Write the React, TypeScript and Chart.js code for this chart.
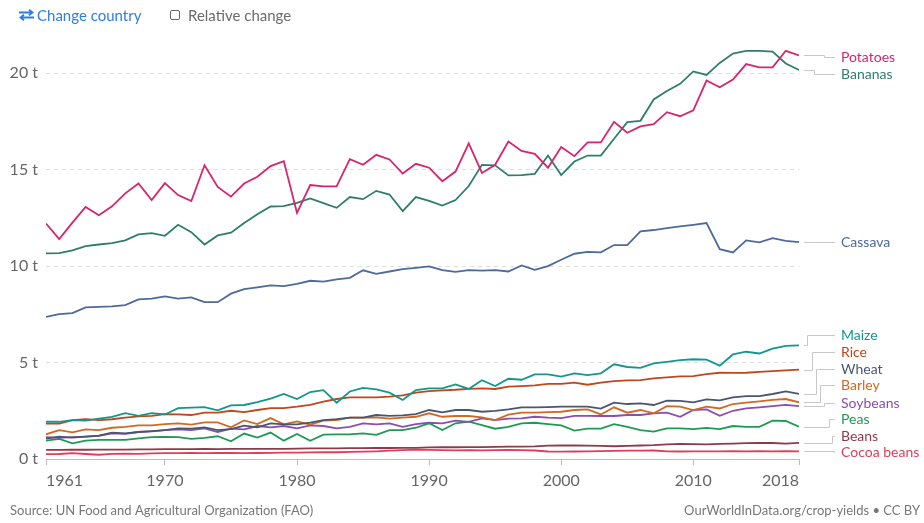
import React, { useEffect, useRef } from "react";
import { Chart, registerables } from "chart.js";
Chart.register(...registerables);

const years: number[] = Array.from({ length: 58 }, (_, i) => 1961 + i);
const xTicks = [1961, 1970, 1980, 1990, 2000, 2010, 2018];
const yTicks = [0, 5, 10, 15, 20];

const potatoes = [12.21, 11.4, 12.25, 13.07, 12.64, 13.1, 13.77, 14.28, 13.42, 14.3,
  13.68, 13.37, 15.23, 14.1, 13.6, 14.28, 14.63, 15.18, 15.44, 12.76,
  14.2, 14.13, 14.13, 15.54, 15.25, 15.77, 15.53, 14.8, 15.3, 15.1,
  14.4, 14.9, 16.36, 14.83, 15.25, 16.46, 15.97, 15.82, 15.1, 16.17,
  15.7, 16.41, 16.41, 17.48, 16.91, 17.24, 17.36, 17.98, 17.77, 18.07,
  19.62, 19.27, 19.67, 20.47, 20.3, 20.3, 21.16, 20.92];
const bananas = [10.66, 10.67, 10.81, 11.04, 11.12, 11.19, 11.33, 11.64, 11.71, 11.57,
  12.14, 11.76, 11.12, 11.59, 11.73, 12.23, 12.69, 13.09, 13.11, 13.28,
  13.51, 13.26, 13.02, 13.58, 13.47, 13.9, 13.71, 12.85, 13.58, 13.38,
  13.14, 13.42, 14.15, 15.25, 15.22, 14.7, 14.72, 14.78, 15.73, 14.72,
  15.42, 15.73, 15.73, 16.6, 17.46, 17.53, 18.64, 19.08, 19.45, 20.09,
  19.91, 20.53, 21.02, 21.16, 21.16, 21.12, 20.5, 20.17];
const cassava = [7.37, 7.51, 7.56, 7.86, 7.89, 7.91, 7.98, 8.27, 8.31, 8.43,
  8.31, 8.38, 8.13, 8.13, 8.57, 8.81, 8.9, 9.0, 8.96, 9.08,
  9.24, 9.2, 9.31, 9.39, 9.78, 9.6, 9.72, 9.84, 9.91, 9.98,
  9.79, 9.7, 9.79, 9.76, 9.79, 9.72, 10.03, 9.81, 10.0, 10.33,
  10.64, 10.74, 10.71, 11.09, 11.09, 11.8, 11.87, 11.97, 12.06, 12.14,
  12.23, 10.88, 10.71, 11.33, 11.23, 11.45, 11.31, 11.24];
const maize = [1.93, 1.93, 2.02, 1.99, 2.09, 2.18, 2.38, 2.24, 2.38, 2.31,
  2.64, 2.66, 2.69, 2.52, 2.78, 2.8, 2.95, 3.13, 3.37, 3.11,
  3.47, 3.57, 2.92, 3.5, 3.69, 3.61, 3.44, 3.06, 3.57, 3.66,
  3.66, 3.87, 3.63, 4.08, 3.78, 4.16, 4.11, 4.39, 4.39, 4.27,
  4.44, 4.35, 4.44, 4.91, 4.77, 4.72, 4.96, 5.04, 5.13, 5.17,
  5.15, 4.84, 5.42, 5.56, 5.47, 5.72, 5.86, 5.89];
const rice = [1.83, 1.83, 2.02, 2.07, 2.02, 2.06, 2.14, 2.21, 2.24, 2.33,
  2.31, 2.28, 2.4, 2.4, 2.5, 2.43, 2.54, 2.64, 2.64, 2.71,
  2.8, 2.97, 3.11, 3.19, 3.19, 3.19, 3.23, 3.3, 3.44, 3.52,
  3.56, 3.59, 3.64, 3.66, 3.63, 3.75, 3.78, 3.82, 3.89, 3.89,
  3.96, 3.85, 3.96, 4.04, 4.08, 4.09, 4.18, 4.23, 4.28, 4.3,
  4.4, 4.47, 4.46, 4.47, 4.52, 4.56, 4.59, 4.63];
const wheat = [1.06, 1.16, 1.11, 1.16, 1.21, 1.37, 1.33, 1.4, 1.45, 1.5,
  1.59, 1.57, 1.64, 1.5, 1.55, 1.73, 1.64, 1.85, 1.8, 1.8,
  1.88, 2.02, 2.07, 2.14, 2.14, 2.28, 2.24, 2.26, 2.33, 2.54,
  2.42, 2.54, 2.54, 2.45, 2.5, 2.57, 2.68, 2.68, 2.69, 2.71,
  2.71, 2.71, 2.61, 2.92, 2.85, 2.88, 2.8, 3.02, 3.01, 2.94,
  3.09, 3.04, 3.19, 3.26, 3.26, 3.37, 3.5, 3.37];
const barley = [1.28, 1.5, 1.38, 1.54, 1.5, 1.62, 1.67, 1.74, 1.74, 1.81,
  1.85, 1.78, 1.9, 1.9, 1.64, 2.0, 1.81, 2.12, 1.8, 1.95,
  1.78, 1.99, 2.02, 2.14, 2.14, 2.16, 2.09, 2.14, 2.19, 2.37,
  2.19, 2.23, 2.23, 2.16, 2.02, 2.3, 2.4, 2.4, 2.43, 2.45,
  2.54, 2.57, 2.31, 2.68, 2.4, 2.54, 2.37, 2.74, 2.71, 2.54,
  2.71, 2.62, 2.85, 2.92, 2.99, 3.06, 3.11, 2.94];
const soybeans = [1.13, 1.09, 1.13, 1.16, 1.2, 1.33, 1.3, 1.4, 1.43, 1.5,
  1.54, 1.5, 1.59, 1.4, 1.57, 1.54, 1.71, 1.64, 1.71, 1.59,
  1.74, 1.71, 1.59, 1.67, 1.85, 1.8, 1.85, 1.67, 1.81, 1.88,
  1.85, 1.99, 1.92, 2.11, 2.02, 2.09, 2.11, 2.19, 2.14, 2.12,
  2.24, 2.24, 2.23, 2.23, 2.28, 2.28, 2.37, 2.4, 2.19, 2.54,
  2.57, 2.24, 2.5, 2.62, 2.68, 2.74, 2.81, 2.74];
const peas = [0.95, 1.04, 0.81, 0.95, 0.99, 0.99, 0.99, 1.07, 1.13, 1.14,
  1.13, 1.04, 1.09, 1.18, 0.92, 1.32, 1.11, 1.37, 0.95, 1.3,
  0.94, 1.26, 1.28, 1.28, 1.33, 1.25, 1.5, 1.5, 1.62, 1.85,
  1.5, 1.85, 1.94, 1.76, 1.57, 1.67, 1.85, 1.88, 1.81, 1.74,
  1.47, 1.57, 1.57, 1.81, 1.67, 1.5, 1.42, 1.59, 1.59, 1.55,
  1.61, 1.55, 1.71, 1.67, 1.67, 1.99, 1.97, 1.67];
const beans = [0.47, 0.47, 0.48, 0.48, 0.49, 0.49, 0.49, 0.5, 0.5, 0.51,
  0.51, 0.51, 0.52, 0.51, 0.52, 0.52, 0.53, 0.53, 0.53, 0.54,
  0.55, 0.55, 0.55, 0.56, 0.56, 0.57, 0.57, 0.58, 0.58, 0.6,
  0.61, 0.61, 0.62, 0.62, 0.63, 0.64, 0.64, 0.65, 0.69, 0.7,
  0.7, 0.69, 0.68, 0.66, 0.68, 0.7, 0.72, 0.76, 0.78, 0.77,
  0.76, 0.78, 0.8, 0.82, 0.83, 0.83, 0.8, 0.84];
const cocoaBeans = [0.25, 0.26, 0.3, 0.26, 0.22, 0.27, 0.28, 0.27, 0.29, 0.3,
  0.3, 0.31, 0.3, 0.32, 0.31, 0.3, 0.31, 0.32, 0.33, 0.33,
  0.34, 0.35, 0.35, 0.37, 0.38, 0.4, 0.43, 0.46, 0.49, 0.47,
  0.46, 0.45, 0.46, 0.45, 0.46, 0.47, 0.46, 0.44, 0.39, 0.38,
  0.39, 0.4, 0.41, 0.42, 0.43, 0.43, 0.44, 0.4, 0.39, 0.4,
  0.4, 0.4, 0.41, 0.4, 0.41, 0.4, 0.41, 0.4];

const seriesNames = ["Potatoes", "Bananas", "Cassava", "Maize", "Rice", "Wheat", "Barley", "Soybeans", "Peas", "Beans", "Cocoa beans"];
const seriesValues = [potatoes, bananas, cassava, maize, rice, wheat, barley, soybeans, peas, beans, cocoaBeans];
const seriesColors = ["#d6246e", "#2e7f69", "#4c6a9c", "#13968f", "#c0471c", "#4a5670", "#d06a22", "#8a4db3", "#1f9a55", "#8e3a4a", "#dc4058"];
// label layout (styling)
const labelY = [57, 74, 242, 335, 352, 369, 385, 403, 419, 436, 452];
const elbowX = [824, 814, 814, 807, 812, 816, 820, 824, 829, 832, 834];

const endLabels = {
  id: "endLabels",
  afterDatasetsDraw(chart: any) {
    const ctx = chart.ctx;
    const area = chart.chartArea;
    const ys = chart.scales.y;
    ctx.save();
    ctx.font = "14px Lato";
    ctx.textBaseline = "middle";
    ctx.textAlign = "left";
    chart.data.datasets.forEach((ds: any, i: number) => {
      const last = ds.data[ds.data.length - 1].y;
      const y0 = ys.getPixelForValue(last);
      const ly = labelY[i];
      const ex = elbowX[i];
      ctx.strokeStyle = "#c8c8c8";
      ctx.lineWidth = 1;
      ctx.beginPath();
      ctx.moveTo(area.right + 5, Math.round(y0) + 0.5);
      ctx.lineTo(ex + 0.5, Math.round(y0) + 0.5);
      ctx.lineTo(ex + 0.5, ly + 0.5);
      ctx.lineTo(area.right + 36, ly + 0.5);
      ctx.stroke();
      ctx.fillStyle = seriesColors[i];
      ctx.fillText(seriesNames[i], area.right + 42, ly);
    });
    ctx.font = "13px Lato";
    ctx.fillStyle = "#777";
    ctx.textAlign = "left";
    ctx.fillText("Source: UN Food and Agricultural Organization (FAO)", 10, 511);
    ctx.textAlign = "right";
    ctx.fillText("OurWorldInData.org/crop-yields • CC BY", 920, 511);
    ctx.restore();
  },
};

export default function App() {
  const ref = useRef<HTMLCanvasElement>(null);
  useEffect(() => {
    document.body.style.margin = "0";
    const datasets = seriesNames.map((name, i) => ({
      label: name,
      data: years.map((yr, j) => ({ x: yr, y: seriesValues[i][j] })),
      borderColor: seriesColors[i],
      backgroundColor: seriesColors[i],
      borderWidth: 1.8,
      pointRadius: 0,
      tension: 0,
      fill: false,
    }));
    const chart = new Chart(ref.current as HTMLCanvasElement, {
      type: "line",
      data: { datasets },
      options: {
        animation: false,
        responsive: false,
        layout: { padding: { left: 0, right: 125, top: 34.6, bottom: 0 } },
        plugins: { legend: { display: false }, tooltip: { enabled: false } },
        scales: {
          x: {
            type: "linear",
            min: 1961,
            max: 2018,
            afterBuildTicks: (s: any) => { s.ticks = xTicks.map((v) => ({ value: v })); },
            afterFit: (s: any) => { s.height = 64; },
            ticks: {
              align: "inner",
              autoSkip: false,
              maxRotation: 0,
              color: "#666",
              padding: 6,
              font: { family: "Lato", size: 16 },
              callback: (v: any) => String(v),
            },
            grid: { drawOnChartArea: false, drawTicks: true, tickLength: 6, color: "#bbb" },
            border: { display: true, color: "#bbb" },
          },
          y: {
            type: "linear",
            min: 0,
            max: 22,
            afterBuildTicks: (s: any) => { s.ticks = yTicks.map((v) => ({ value: v })); },
            afterFit: (s: any) => { s.width = 46; },
            ticks: {
              color: "#666",
              padding: 8,
              font: { family: "Lato", size: 16 },
              callback: (v: any) => v + " t",
            },
            grid: {
              drawTicks: false,
              color: (c: any) => (c.tick && c.tick.value === 0 ? "rgba(0,0,0,0)" : "#dddddd"),
              lineWidth: 1,
            },
            border: { display: false, dash: [4, 4] },
          },
        },
      } as any,
      plugins: [endLabels],
    });
    return () => chart.destroy();
  }, []);
  return (
    <div style={{ position: "relative", width: 924, height: 523, background: "#fff", fontFamily: "Lato" }}>
      <canvas ref={ref} width={924} height={523} style={{ position: "absolute", left: 0, top: 0 }} />
      <div style={{ position: "absolute", left: 18, top: 6, height: 18, display: "flex", alignItems: "center", color: "#2d7ee0", fontSize: 15 }}>
        <svg width="17" height="12" viewBox="0 0 17 12" style={{ marginRight: 2 }}>
          <path d="M1 3.5 H14 M11 0.8 L14.5 3.5 L11 6.2" stroke="#2d7ee0" strokeWidth="1.8" fill="none" />
          <path d="M16 8.5 H3 M6 5.8 L2.5 8.5 L6 11.2" stroke="#2d7ee0" strokeWidth="1.8" fill="none" />
        </svg>
        <span>Change country</span>
      </div>
      <div style={{ position: "absolute", left: 170, top: 6, height: 18, display: "flex", alignItems: "center", color: "#6b6b6b", fontSize: 15 }}>
        <span style={{ display: "inline-block", width: 8, height: 8, border: "1.5px solid #666", borderRadius: 2, marginRight: 8 }} />
        <span>Relative change</span>
      </div>
    </div>
  );
}
